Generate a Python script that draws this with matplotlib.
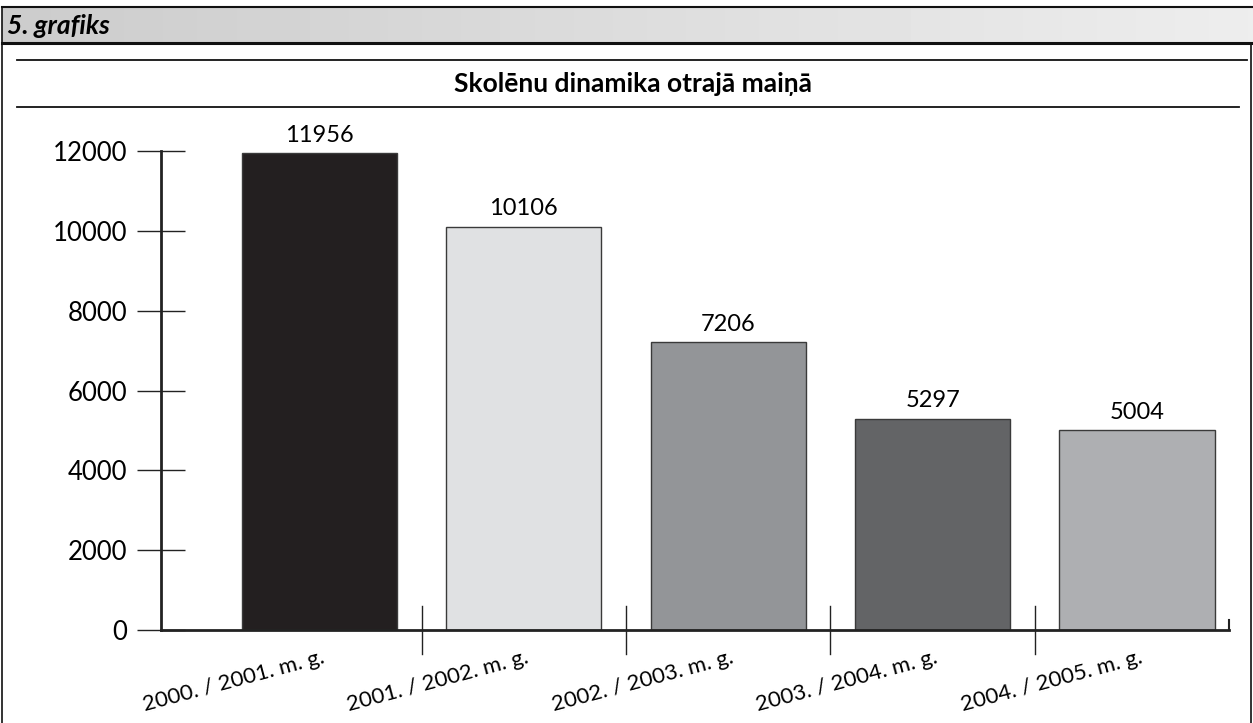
import numpy as np
import matplotlib
matplotlib.use('Agg')
import matplotlib.pyplot as plt
from matplotlib.lines import Line2D

plt.rcParams.update({'font.family': ['Lato', 'DejaVu Sans']})

# dati
gadi = ['2000. / 2001. m. g.', '2001. / 2002. m. g.', '2002. / 2003. m. g.',
        '2003. / 2004. m. g.', '2004. / 2005. m. g.']
skoleni = [11956, 10106, 7206, 5297, 5004]
krasas = ['#231f20', '#e0e1e3', '#939598', '#636466', '#aeafb2']
y_ticks = [0, 2000, 4000, 6000, 8000, 10000, 12000]

W, H = 1253, 723
fig = plt.figure(figsize=(W / 100, H / 100), dpi=100)

def fx(px):
    return px / W

def fy(py):
    return 1 - py / H

# galvene ar pelēku fonu
hdr = fig.add_axes([fx(2), fy(43), fx(1251), fy(7) - fy(43)])
grad = np.tile(np.linspace(0.80, 0.93, 256), (8, 1))
hdr.imshow(grad, cmap='gray', vmin=0, vmax=1, aspect='auto', extent=[0, 1, 0, 1])
hdr.axis('off')
fig.text(fx(7), fy(26), '5. grafiks', fontsize=19, fontweight='bold',
         fontstyle='italic', va='center', ha='left')

# rāmis
fig.add_artist(Line2D([fx(2), fx(1253)], [fy(7), fy(7)], color='#111', lw=1.5))
fig.add_artist(Line2D([fx(2), fx(1253)], [fy(43), fy(43)], color='#111', lw=2.2))
fig.add_artist(Line2D([fx(2), fx(2)], [fy(7), 0], color='#111', lw=1.2))
fig.add_artist(Line2D([fx(1251), fx(1251)], [fy(43), 0], color='#111', lw=1.2))

# virsraksts
fig.add_artist(Line2D([fx(17), fx(1247)], [fy(60), fy(60)], color='#111', lw=1.3))
fig.add_artist(Line2D([fx(17), fx(1239)], [fy(107), fy(107)], color='#111', lw=1.3))
fig.text(fx(633), fy(84), 'Skolēnu dinamika otrajā maiņā', fontsize=19,
         fontweight='bold', ha='center', va='center')

ax = fig.add_axes([fx(161), fy(630), fx(1229) - fx(161), fy(151) - fy(630)])
x = np.arange(len(gadi))
ax.bar(x, skoleni, width=0.76, color=krasas, edgecolor='#3a3a3a', linewidth=1)
for xi, v in zip(x, skoleni):
    ax.text(xi, v + 180, str(v), ha='center', va='bottom', fontsize=17)

ax.set_xlim(-0.775, 4.45)
ax.set_ylim(0, 12000)
ax.set_yticks(y_ticks)
ax.set_yticklabels([str(t) for t in y_ticks], fontsize=18.5)
ax.tick_params(axis='y', direction='inout', length=34.5, width=1, pad=7, color='#222')
ax.set_xticks([])
for b in x[:-1] + 0.5:
    ax.plot([b, b], [-0.05, 0.05], transform=ax.get_xaxis_transform(),
            color='#222', lw=1, clip_on=False)
ax.plot([4.45, 4.45], [0, 0.02], transform=ax.get_xaxis_transform(),
        color='#222', lw=1.5, clip_on=False)
for xi, lab in zip(x, gadi):
    ax.text(xi + 0.03, -0.069, lab, transform=ax.get_xaxis_transform(),
            rotation=15, rotation_mode='anchor', ha='right', va='baseline',
            fontsize=16)

for s in ['top', 'right']:
    ax.spines[s].set_visible(False)
ax.spines['left'].set_linewidth(2)
ax.spines['bottom'].set_linewidth(2)
ax.spines['left'].set_color('#222')
ax.spines['bottom'].set_color('#222')

fig.savefig('out.png', dpi=100)
